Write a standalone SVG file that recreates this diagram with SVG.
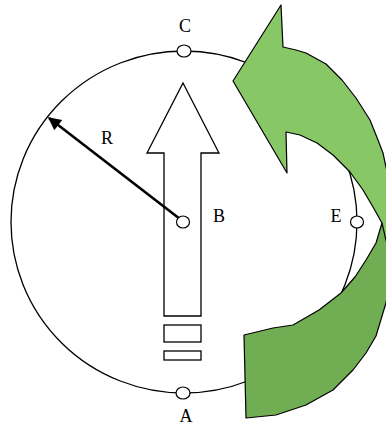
<svg xmlns="http://www.w3.org/2000/svg" width="386" height="426" viewBox="0 0 386 426">
<style>
.ln{fill:none;stroke:#000;stroke-width:1.3}
.sh{fill:#fff;stroke:#000;stroke-width:1.3}
.nd{fill:#fff;stroke:#000;stroke-width:1.2}
.g1{fill:#88C766;stroke:#000;stroke-width:1.2;stroke-linejoin:round}
.g2{fill:#71AD52;stroke:#000;stroke-width:1.2;stroke-linejoin:round}
.lb{font-family:"Liberation Serif","Times New Roman",serif;font-size:18px;fill:#000}
</style>
<defs>
<marker id="ah" viewBox="0 0 10 10" refX="9" refY="5" markerWidth="6" markerHeight="5" markerUnits="strokeWidth" orient="auto">
<path d="M0,0 L10,5 L0,10 Z" fill="#000"/>
</marker>
</defs>
<g id="circle">
<ellipse class="ln" cx="184" cy="222" rx="173" ry="171"/>
</g>
<g id="blockArrow">
<polygon class="sh" points="183,83 219,153 201,153 201,316 164,316 164,153 147,153"/>
<rect class="sh" x="164" y="325" width="37" height="17"/>
<rect class="sh" x="164" y="351" width="37" height="9"/>
</g>
<g id="connectors">
<line x1="180" y1="219" x2="49" y2="118" stroke="#000" stroke-width="2.6" marker-end="url(#ah)"/>
</g>
<g id="curvedArrow">
<polygon class="g2" points="244,335 246,418 276,415 306,405 333,390 353,370 366,353 376,336 386,303 392,270 392,235 386,225 382,223 376,243 366,260 355,277 341,293 319,310 293,325 273,328 244,335"/>
<polygon class="g1" points="233,81 281,5 283,47 296,50 306,53 326,64 342,80 356,98 370,120 378,140 383,153 386,167 392,195 394,230 390,252 386,240 382,223 373,207 363,190 350,172 333,155 317,143 300,135 286,132 287,173"/>
</g>
<g id="nodeC"><ellipse class="nd" cx="184" cy="51" rx="7" ry="6"/><text class="lb" x="185" y="32" text-anchor="middle">C</text></g>
<g id="nodeB"><ellipse class="nd" cx="183" cy="222" rx="6.5" ry="6"/><text class="lb" x="219" y="222" text-anchor="middle">B</text></g>
<g id="nodeE"><ellipse class="nd" cx="357" cy="222" rx="6.5" ry="6"/><text class="lb" x="336" y="222" text-anchor="middle">E</text></g>
<g id="nodeA"><ellipse class="nd" cx="183" cy="393" rx="7" ry="6"/><text class="lb" x="186" y="422" text-anchor="middle">A</text></g>
<g id="labelR"><text class="lb" x="107" y="144" text-anchor="middle">R</text></g>
</svg>
